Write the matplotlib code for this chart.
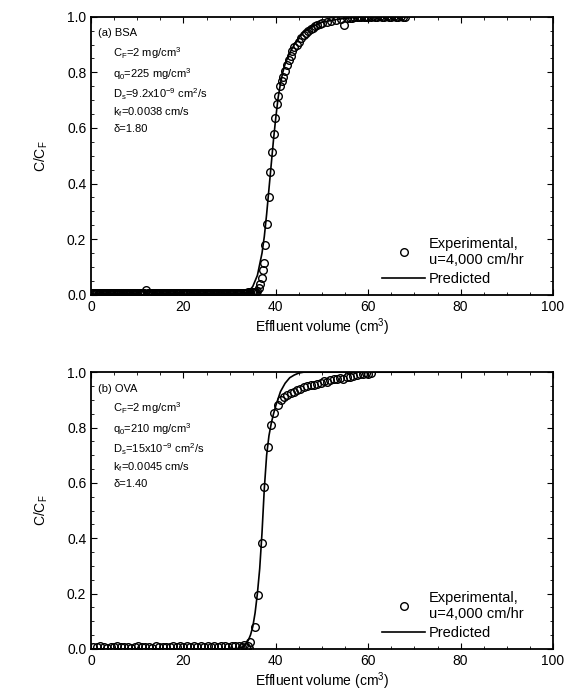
import numpy as np
import matplotlib.pyplot as plt
from matplotlib.ticker import MultipleLocator

plt.rcParams['font.family'] = ['Liberation Sans', 'DejaVu Sans']
plt.rcParams['mathtext.fontset'] = 'custom'
plt.rcParams['mathtext.rm'] = 'Liberation Sans'
plt.rcParams['mathtext.it'] = 'Liberation Sans'
plt.rcParams['mathtext.default'] = 'regular'

# (a) BSA - experimental breakthrough data
bsa_x = [0.3, 0.5, 0.8, 1.0, 1.3, 1.5, 1.8, 2.0, 2.3, 2.5, 2.8, 3.0, 3.3, 3.5, 3.8, 4.0,
         4.3, 4.5, 4.8, 5.0, 5.3, 5.5, 5.8, 6.0, 6.3, 6.5, 6.8, 7.0, 7.3, 7.5, 7.8, 8.0,
         8.3, 8.5, 8.8, 9.0, 9.3, 9.5, 9.8, 10.0, 10.3, 10.5, 10.8, 11.0, 11.3, 11.5,
         12.0, 12.3, 12.5, 12.8, 13.0, 13.3, 13.5, 13.8, 14.0, 14.3, 14.5, 14.8, 15.0,
         15.3, 15.5, 15.8, 16.0, 16.3, 16.5, 16.8, 17.0, 17.3, 17.5, 17.8, 18.0, 18.3,
         18.5, 18.8, 19.0, 19.3, 19.5, 19.8, 20.0, 20.3, 20.5, 20.8, 21.0, 21.3, 21.5,
         21.8, 22.0, 22.3, 22.5, 22.8, 23.0, 23.3, 23.5, 23.8, 24.0, 24.3, 24.5, 24.8,
         25.0, 25.3, 25.5, 25.8, 26.0, 26.3, 26.5, 26.8, 27.0, 27.3, 27.5, 27.8, 28.0,
         28.3, 28.5, 28.8, 29.0, 29.3, 29.5, 29.8, 30.0, 30.3, 30.5, 30.8, 31.0, 31.3,
         31.5, 31.8, 32.0, 32.3, 32.5, 32.8, 33.0, 33.3, 33.5, 33.8, 34.0, 34.3, 34.5,
         34.8, 35.0, 35.3, 35.5, 35.8,
         11.8,
         36.0, 36.3, 36.6, 36.9, 37.2, 37.4, 37.7, 38.1, 38.5, 38.8,
         39.2, 39.6, 39.9, 40.2, 40.5, 40.8, 41.3, 41.6, 42.0, 42.4,
         42.8, 43.2, 43.6, 44.0, 44.5, 45.0, 45.5, 46.0, 46.5, 47.0,
         47.5, 48.0, 48.5, 49.0, 49.5, 50.0, 51.0, 52.0, 53.0, 54.0,
         54.8, 55.5, 56.0, 56.5, 57.0, 57.5, 58.0, 58.5, 59.0, 59.5,
         60.0, 60.5, 61.0, 61.5, 62.0, 62.5, 63.0, 63.5, 64.0, 64.5,
         65.0, 65.5, 66.0, 66.5, 67.0, 67.5, 68.0]
bsa_y = [0.006, 0.005, 0.005, 0.006, 0.005, 0.004, 0.005, 0.005, 0.006, 0.005, 0.005, 0.004,
         0.005, 0.005, 0.006, 0.005, 0.005, 0.004, 0.005, 0.005, 0.005, 0.006, 0.005, 0.005,
         0.004, 0.005, 0.005, 0.006, 0.005, 0.005, 0.005, 0.005, 0.004, 0.005, 0.006, 0.005,
         0.005, 0.005, 0.004, 0.005, 0.006, 0.005, 0.005, 0.005, 0.006, 0.005,
         0.004, 0.005, 0.005, 0.006, 0.005, 0.005, 0.006, 0.005, 0.005, 0.006, 0.006,
         0.005, 0.006, 0.006, 0.005, 0.005, 0.004, 0.005, 0.006, 0.005, 0.005, 0.005,
         0.004, 0.005, 0.006, 0.005, 0.005, 0.005, 0.006, 0.005, 0.004, 0.005, 0.005,
         0.006, 0.005, 0.005, 0.006, 0.005, 0.005, 0.006, 0.006, 0.005, 0.006, 0.006,
         0.005, 0.005, 0.004, 0.005, 0.006, 0.005, 0.005, 0.005, 0.004, 0.005, 0.006,
         0.005, 0.005, 0.005, 0.006, 0.005, 0.004, 0.005, 0.005, 0.006, 0.005, 0.005,
         0.006, 0.005, 0.005, 0.006, 0.006, 0.005, 0.006, 0.006, 0.006, 0.007, 0.006,
         0.007, 0.006, 0.007, 0.007, 0.008, 0.007, 0.007, 0.008, 0.007, 0.008, 0.008,
         0.009, 0.008, 0.009, 0.010, 0.009, 0.010, 0.011, 0.010,
         0.016,
         0.012, 0.025, 0.040, 0.062, 0.090, 0.115, 0.180, 0.255, 0.350, 0.440,
         0.515, 0.580, 0.635, 0.685, 0.715, 0.750, 0.770, 0.785, 0.805, 0.825,
         0.845, 0.860, 0.875, 0.890, 0.900, 0.910, 0.925, 0.935, 0.940, 0.950,
         0.955, 0.960, 0.965, 0.970, 0.975, 0.978, 0.982, 0.986, 0.990, 0.992,
         0.972, 0.995, 0.996, 0.997, 0.998, 0.998, 0.999, 1.000, 1.000, 0.999,
         1.000, 1.000, 1.001, 1.000, 1.000, 1.001, 1.000, 1.000, 1.001, 1.000,
         1.000, 1.001, 1.000, 1.000, 1.001, 1.000, 1.000]

# (a) BSA - predicted curve
bsa_pred_x = [0, 30, 33, 34, 35, 36, 37, 37.5, 38, 38.5, 39, 39.5, 40, 40.5,
              41, 41.5, 42, 43, 44, 45, 46, 48, 50, 53, 56, 60, 65, 70]
bsa_pred_y = [0, 0, 0.003, 0.010, 0.030, 0.070, 0.150, 0.210, 0.290, 0.380,
              0.470, 0.560, 0.640, 0.710, 0.760, 0.800, 0.830, 0.870, 0.900,
              0.925, 0.945, 0.965, 0.980, 0.990, 0.996, 1.0, 1.0, 1.0]

# (b) OVA - experimental breakthrough data
ova_x = [0.5, 1.2, 2.0, 2.7, 3.5, 4.2, 5.0, 5.7, 6.5, 7.2, 8.0, 8.7, 9.5, 10.2,
         11.0, 11.7, 12.5, 13.2, 14.0, 14.7, 15.5, 16.2, 17.0, 17.7, 18.5, 19.2,
         20.0, 20.7, 21.5, 22.2, 23.0, 23.7, 24.5, 25.2, 26.0, 26.7, 27.5, 28.2,
         29.0, 29.7, 30.5, 31.2, 32.0, 32.6,
         33.2, 33.6, 34.0, 34.3, 35.4, 36.1, 36.9,
         37.5, 38.2, 38.9, 39.6, 40.4, 41.1, 41.8, 42.5, 43.2, 44.0,
         44.6, 45.3, 46.1, 46.8, 47.5, 48.2, 49.0, 49.7, 50.4, 51.1,
         51.8, 52.5, 53.2, 53.9, 54.6, 55.4, 56.1, 56.8, 57.5, 58.2,
         58.9, 59.5, 60.0, 60.6]
ova_y = [0.008, 0.006, 0.009, 0.007, 0.005, 0.008, 0.006, 0.009, 0.007, 0.006,
         0.008, 0.005, 0.007, 0.009, 0.006, 0.008, 0.007, 0.005, 0.009, 0.006,
         0.008, 0.007, 0.006, 0.009, 0.007, 0.010, 0.006, 0.009, 0.008, 0.011,
         0.007, 0.010, 0.006, 0.009, 0.008, 0.011, 0.007, 0.010, 0.012, 0.008,
         0.011, 0.009, 0.012, 0.007,
         0.014, 0.008, 0.010, 0.026, 0.080, 0.194, 0.382,
         0.585, 0.728, 0.809, 0.854, 0.880, 0.898, 0.910, 0.918, 0.925, 0.930,
         0.935, 0.940, 0.945, 0.950, 0.952, 0.955, 0.958, 0.962, 0.968, 0.966,
         0.972, 0.975, 0.976, 0.978, 0.977, 0.982, 0.984, 0.988, 0.990, 0.992,
         0.994, 0.997, 0.995, 0.998]

# (b) OVA - predicted curve
ova_pred_x = [0, 30, 32, 33, 34, 34.5, 35, 35.5, 36, 36.5, 37, 37.5, 38, 38.5,
              39, 39.5, 40, 41, 42, 43, 44, 45, 46, 50, 60, 70]
ova_pred_y = [0, 0, 0.002, 0.008, 0.030, 0.050, 0.080, 0.130, 0.200, 0.290,
              0.420, 0.580, 0.700, 0.770, 0.815, 0.850, 0.880, 0.930, 0.960,
              0.980, 0.990, 0.997, 1.0, 1.0, 1.0, 1.0]

bsa_notes = ['C$_F$=2 mg/cm$^3$', 'q$_0$=225 mg/cm$^3$',
             'D$_s$=9.2x10$^{-9}$ cm$^2$/s', 'k$_f$=0.0038 cm/s', 'δ=1.80']
ova_notes = ['C$_F$=2 mg/cm$^3$', 'q$_0$=210 mg/cm$^3$',
             'D$_s$=15x10$^{-9}$ cm$^2$/s', 'k$_f$=0.0045 cm/s', 'δ=1.40']

fig = plt.figure(figsize=(5.66, 6.97), dpi=100)
ax1 = fig.add_axes([0.161, 0.577, 0.816, 0.399])
ax2 = fig.add_axes([0.161, 0.069, 0.816, 0.397])

panels = [(ax1, bsa_x, bsa_y, bsa_pred_x, bsa_pred_y, '(a) BSA', bsa_notes),
          (ax2, ova_x, ova_y, ova_pred_x, ova_pred_y, '(b) OVA', ova_notes)]

note_y = [0.87, 0.795, 0.722, 0.657, 0.597]

for ax, ex, ey, px, py, title, notes in panels:
    ax.plot(ex, ey, 'o', mfc='none', mec='black', ms=5.5, mew=1.0,
            label='Experimental,\nu=4,000 cm/hr')
    ax.plot(px, py, '-', color='black', lw=1.2, label='Predicted')
    ax.set_xlim(0, 100)
    ax.set_ylim(0, 1.0)
    ax.xaxis.set_major_locator(MultipleLocator(20))
    ax.xaxis.set_minor_locator(MultipleLocator(5))
    ax.yaxis.set_major_locator(MultipleLocator(0.2))
    ax.yaxis.set_minor_locator(MultipleLocator(0.05))
    ax.yaxis.set_major_formatter(plt.FormatStrFormatter('%.1f'))
    ax.tick_params(which='both', direction='in', top=True, right=True,
                   labelsize=10)
    ax.tick_params(which='major', length=4)
    ax.tick_params(which='minor', length=2)
    for s in ax.spines.values():
        s.set_linewidth(1.3)
    ax.set_xlabel('Effluent volume (cm$^3$)', fontsize=10, labelpad=2)
    ax.set_ylabel('C/C$_F$', fontsize=10, labelpad=12)
    ax.text(0.015, 0.94, title, transform=ax.transAxes, fontsize=8,
            va='center', ha='left')
    for t, yy in zip(notes, note_y):
        ax.text(0.048, yy, t, transform=ax.transAxes, fontsize=8,
                va='center', ha='left')
    ax.legend(loc='lower right', bbox_to_anchor=(0.965, -0.015), frameon=False,
              fontsize=10.5, handlelength=3.0, handletextpad=0.25,
              labelspacing=0.35)

fig.savefig('out.png', dpi=100)
